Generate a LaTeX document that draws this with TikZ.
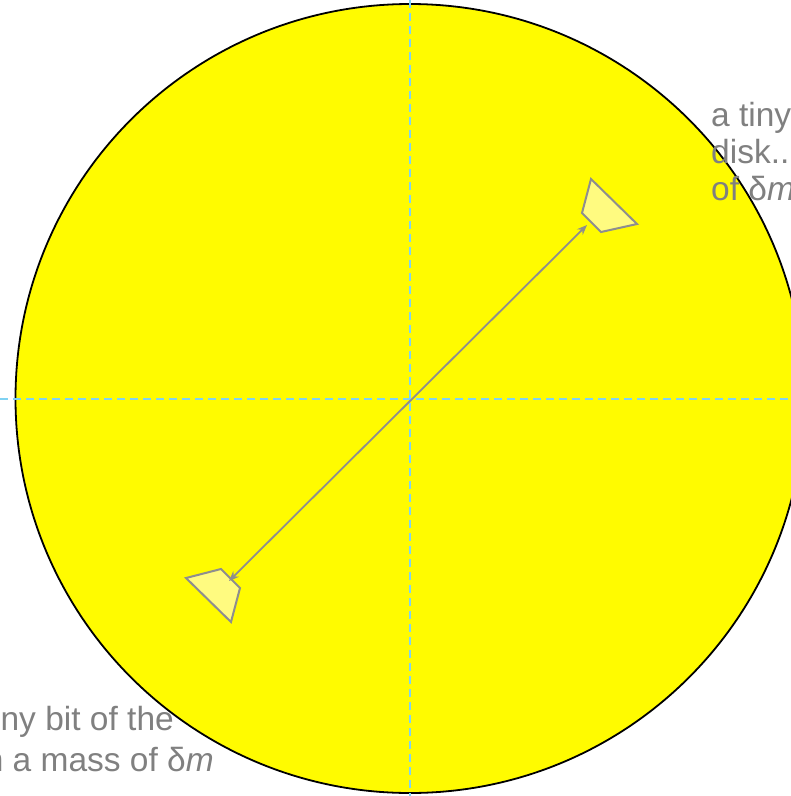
\documentclass[tikz,border=0pt]{standalone}
\usepackage{fontspec}
\setmainfont{Liberation Sans}
\usetikzlibrary{arrows.meta}
\definecolor{discyellow}{HTML}{FFFB00}
\definecolor{bityellow}{HTML}{FFFB80}
\definecolor{axisblue}{HTML}{80D2F2}
\definecolor{linegray}{HTML}{8E8E8E}
\definecolor{textgray}{HTML}{808080}
\tikzset{
  disc/.style={draw=black, line width=1.8pt, fill=discyellow},
  axisline/.style={draw=axisblue, line width=2pt, dash pattern=on 8pt off 5pt},
  bit/.style={draw=linegray, line width=2pt, fill=bityellow, line join=miter},
  radius line/.style={draw=linegray, line width=1.8pt, {Stealth[length=10pt,width=8pt]}-{Stealth[length=10pt,width=8pt]}},
  label/.style={text=textgray, font=\fontsize{33.5}{37}\selectfont, inner sep=0pt}
}
\begin{document}
\begin{tikzpicture}[x=1pt,y=-1pt]
\useasboundingbox (0,0) rectangle (791,796);
\node[circle, disc, minimum size=789pt, inner sep=0pt] (disk) at (410,398.5) {};
\coordinate (ctr) at (410,398.5);
\coordinate (vtop) at (410,0);
\coordinate (vbot) at (410,796);
\coordinate (hleft) at (0,398.5);
\coordinate (hright) at (791,398.5);
\draw[axisline] (vtop) -- (vbot);
\draw[axisline] (hleft) -- (hright);
\draw[bit] (591,179) -- (637,224) -- (601,232) -- (582,213) -- cycle;
\draw[bit] (186,578) -- (221,569) -- (240,588) -- (231,622) -- cycle;
\coordinate (tipA) at (229,581);
\coordinate (tipB) at (587,225);
\draw[radius line] (tipA) -- (tipB);
\node[label, anchor=base west] (t1) at (711,126) {a tiny};
\node[label, anchor=base west] (t2) at (711,163) {disk..};
\node[label, anchor=base west] (t3) at (711,200) {of δ\textit{m}};
\node[label, anchor=base east] (b1) at (174,730) {ny bit of the};
\node[label, anchor=base east] (b2) at (214,771) {n a mass of δ\textit{m}};
\end{tikzpicture}
\end{document}
